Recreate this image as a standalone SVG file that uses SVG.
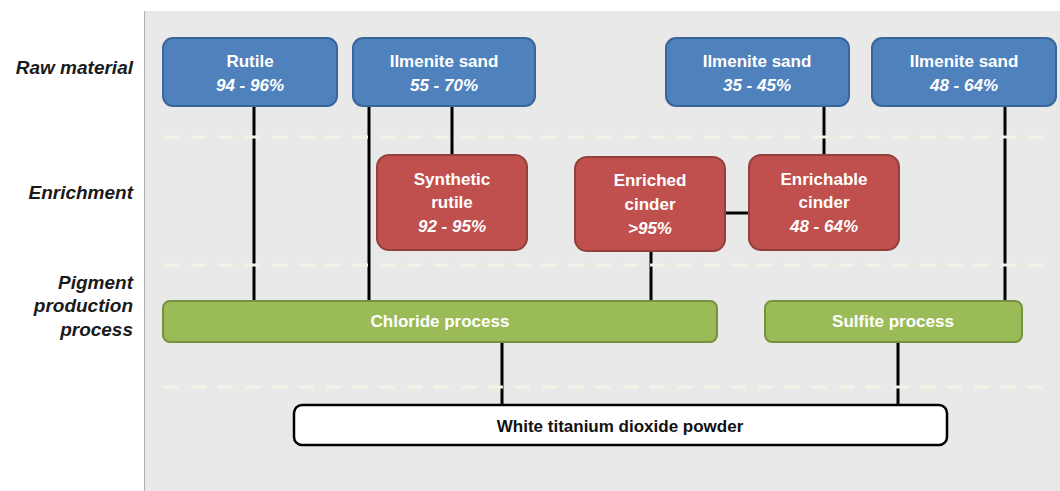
<svg xmlns="http://www.w3.org/2000/svg" width="1060" height="491" viewBox="0 0 1060 491">
<style>
.lbl{font-family:"Liberation Sans",Arial,sans-serif;font-weight:bold;font-style:italic;font-size:19px;fill:#1a1a1a;text-anchor:end}
.t{font-family:"Liberation Sans",Arial,sans-serif;font-weight:bold;font-size:17px;fill:#fff;text-anchor:middle}
.i{font-style:italic}
.blue{fill:#4f81bd;stroke:#3a6598;stroke-width:2}
.red{fill:#c0504d;stroke:#93403d;stroke-width:2}
.green{fill:#9bbb59;stroke:#76923f;stroke-width:2}
.white{fill:#fff;stroke:#000;stroke-width:2.5}
.c{stroke:#000;stroke-width:3;fill:none}
.dash{stroke:#f4f3e6;stroke-width:3;stroke-dasharray:15 12;fill:none}
</style>
<rect x="0" y="0" width="1060" height="491" fill="#fff"/>
<rect x="144" y="11" width="916" height="480" fill="#e9e9e9"/>
<line x1="144.5" y1="11" x2="144.5" y2="491" stroke="#b0b0b0" stroke-width="1"/>

<g id="row-labels">
<text class="lbl" x="133" y="74">Raw material</text>
<text class="lbl" x="133" y="199">Enrichment</text>
<text class="lbl" x="133" y="289">Pigment</text>
<text class="lbl" x="133" y="312">production</text>
<text class="lbl" x="133" y="336">process</text>
</g>

<g id="connectors">
<line class="c" x1="254" y1="106" x2="254" y2="302"/>
<line class="c" x1="369" y1="106" x2="369" y2="302"/>
<line class="c" x1="452" y1="106" x2="452" y2="156"/>
<line class="c" x1="824" y1="106" x2="824" y2="156"/>
<line class="c" x1="1005" y1="106" x2="1005" y2="302"/>
<line class="c" x1="651" y1="250" x2="651" y2="302"/>
<line class="c" x1="725" y1="213" x2="750" y2="213"/>
<line class="c" x1="502" y1="341" x2="502" y2="406"/>
<line class="c" x1="898" y1="341" x2="898" y2="406"/>
</g>

<g id="separators">
<line class="dash" x1="164" y1="137" x2="1044" y2="137"/>
<line class="dash" x1="164" y1="265" x2="1044" y2="265"/>
<line class="dash" x1="164" y1="387" x2="1044" y2="387"/>
</g>

<g id="rutile">
<rect class="blue" x="163" y="38" width="174" height="68" rx="10"/>
<text class="t" x="250" y="67">Rutile</text>
<text class="t i" x="250" y="91">94 - 96%</text>
</g>
<g id="ilmenite1">
<rect class="blue" x="353" y="38" width="182" height="68" rx="10"/>
<text class="t" x="444" y="67">Ilmenite sand</text>
<text class="t i" x="444" y="91">55 - 70%</text>
</g>
<g id="ilmenite2">
<rect class="blue" x="666" y="38" width="183" height="68" rx="10"/>
<text class="t" x="757" y="67">Ilmenite sand</text>
<text class="t i" x="757" y="91">35 - 45%</text>
</g>
<g id="ilmenite3">
<rect class="blue" x="872" y="38" width="184" height="68" rx="10"/>
<text class="t" x="964" y="67">Ilmenite sand</text>
<text class="t i" x="964" y="91">48 - 64%</text>
</g>

<g id="synthetic-rutile">
<rect class="red" x="377" y="155" width="150" height="95" rx="12"/>
<text class="t" x="452" y="185">Synthetic</text>
<text class="t" x="452" y="208">rutile</text>
<text class="t i" x="452" y="232">92 - 95%</text>
</g>
<g id="enriched-cinder">
<rect class="red" x="575" y="157" width="150" height="94" rx="12"/>
<text class="t" x="650" y="186">Enriched</text>
<text class="t" x="650" y="210">cinder</text>
<text class="t i" x="650" y="234">&gt;95%</text>
</g>
<g id="enrichable-cinder">
<rect class="red" x="749" y="155" width="150" height="95" rx="12"/>
<text class="t" x="824" y="185">Enrichable</text>
<text class="t" x="824" y="208">cinder</text>
<text class="t i" x="824" y="232">48 - 64%</text>
</g>

<g id="chloride">
<rect class="green" x="163" y="301" width="554" height="41" rx="7"/>
<text class="t" x="440" y="327">Chloride process</text>
</g>
<g id="sulfite">
<rect class="green" x="765" y="301" width="257" height="41" rx="7"/>
<text class="t" x="893" y="327">Sulfite process</text>
</g>

<g id="tio2">
<rect class="white" x="294" y="405" width="653" height="40" rx="8"/>
<text class="t" x="620" y="432" style="fill:#111">White titanium dioxide powder</text>
</g>
</svg>
